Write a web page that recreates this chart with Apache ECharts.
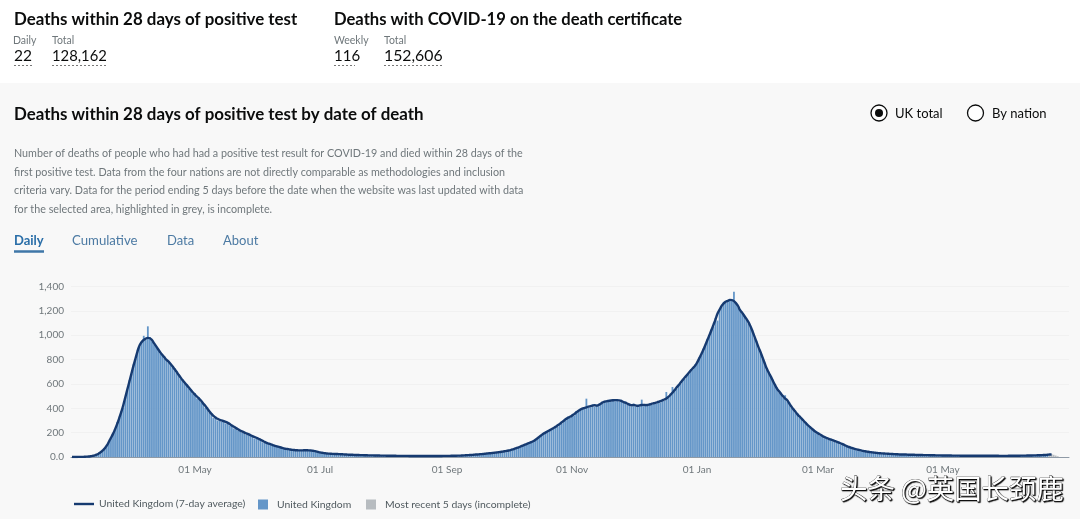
<!DOCTYPE html>
<html><head><meta charset="utf-8">
<style>html,body{margin:0;padding:0;background:#fff}#c{width:1080px;height:519px}</style>
<script src="https://cdn.jsdelivr.net/npm/echarts@6/dist/echarts.min.js"></script>
</head><body><div id="c"></div>
<script>
const startDate = '2020-03-02';
const dayCount = 487;
const tickDates = {'2020-05-01':'01 May','2020-07-01':'01 Jul','2020-09-01':'01 Sep','2020-11-01':'01 Nov','2021-01-01':'01 Jan','2021-03-01':'01 Mar','2021-05-01':'01 May'};
const yTicks = [0,200,400,600,800,1000,1200,1400];
const average = [
0,0,0,1,1,1,2,3,4,6, 9,13,19,28,40,54,72,95,125,158,
190,228,270,318,368,425,490,555,620,685, 750,810,870,918,945,962,972,978,975,960,
935,910,885,860,840,820,800,785,765,745, 722,700,675,652,630,610,590,570,550,530,
512,495,480,462,440,420,398,375,355,338, 324,314,306,300,295,288,280,270,258,248,
238,228,218,210,202,194,188,180,172,165, 158,150,142,132,124,116,110,104,98,92,
87,83,78,73,68,66,63,60,58,56, 55,54,54,55,56,55,54,52,50,46,
42,38,35,32,30,28,27,26,25,25, 24,23,22,21,20,19,18,18,17,17,
16,15,15,14,14,13,13,13,12,12, 12,11,11,11,10,10,10,10,10,9,
9,9,9,9,9,8,8,8,8,8, 8,8,8,8,8,8,8,8,8,8,
8,9,9,9,9,10,10,10,11,11, 12,13,14,15,16,17,18,20,21,23,
24,26,28,30,31,33,35,37,39,41, 44,47,50,53,57,62,68,74,80,87,
94,101,108,115,122,129,140,152,165,178, 190,200,210,219,228,238,248,260,272,285,
298,312,322,330,340,352,365,378,388,397, 402,408,413,418,422,425,422,428,438,448,
455,458,461,464,466,467,467,465,460,452, 446,438,430,425,428,424,420,424,427,428,
426,428,432,438,442,447,452,458,464,472, 480,494,510,528,548,570,589,612,632,652,
672,692,712,730,748,775,808,842,878,918, 958,1000,1041,1085,1130,1178,1210,1240,1262,1275,
1282,1290,1288,1280,1262,1240,1205,1185,1160,1135, 1110,1075,1035,990,945,900,860,815,770,726,
692,660,625,592,562,540,518,498,480,466, 440,415,392,372,350,333,315,298,280,262,
247,232,218,205,195,185,175,165,158,151, 145,139,133,127,120,113,106,98,90,83,
77,72,67,62,58,54,50,47,44,41, 39,37,35,33,31,30,29,28,27,26,
25,24,23,22,21,21,20,20,19,19, 18,18,17,17,16,16,15,15,15,14,
14,14,13,13,13,12,12,12,12,12, 11,11,11,11,10,10,10,10,10,10,
10,10,10,10,10,10,10,10,10,10, 10,10,10,9,9,9,9,10,10,10,
10,10,10,11,11,11,12,12,12,13, 13,14,14,15,16,17,18,20,21];
const daily = [
0,0,0,1,1,2,1,3,5,6, 8,12,20,25,40,52,70,98,122,158,
195,230,285,320,375,405,490,545,630,680, 760,805,880,905,950,995,960,1073,985,950,
925,905,890,850,845,810,805,775,770,735, 730,690,680,640,635,600,595,560,555,520,
525,480,490,450,445,405,410,365,355,320, 330,300,310,290,300,275,285,260,262,235,
242,218,222,200,206,182,192,172,176,152, 162,140,148,120,128,108,114,98,102,85,
90,76,82,66,72,60,66,54,60,50, 58,50,57,50,60,52,57,48,53,42,
44,34,37,28,32,24,29,22,27,21, 26,19,24,18,22,16,20,15,19,14,
18,12,17,11,16,10,15,10,14,9, 14,8,13,8,12,7,12,8,12,7,
11,7,11,6,11,6,10,6,10,6, 10,6,10,6,10,6,10,6,10,6,
10,7,11,7,11,8,12,8,13,9, 14,10,16,12,18,14,20,17,23,20,
26,23,30,27,33,30,37,34,41,38, 46,44,52,50,59,59,71,70,83,84,
97,98,112,112,126,124,145,148,170,174, 196,195,216,212,234,230,256,250,280,275,
306,302,332,320,350,340,376,370,398,395, 392,479,405,408,432,412,430,418,446,440,
462,450,470,455,475,458,476,455,470,444, 456,428,440,415,438,415,430,416,471,418,
436,420,442,430,452,438,462,448,474,462, 534,484,520,575,558,560,600,600,642,640,
682,680,722,718,760,765,818,830,890,905, 970,990,1052,1070,1142,1120,1205,1230,1272,1265,
1290,1295,1280,1356,1272,1230,1215,1175,1170,1125, 1096,1065,1045,980,955,890,849,805,780,715,
700,650,635,582,572,530,528,488,507,456, 450,405,400,362,358,323,322,288,288,252,
255,222,226,195,203,175,183,155,166,141, 152,130,140,118,127,104,113,90,96,75,
83,64,72,55,63,47,55,41,49,36, 44,33,38,29,34,27,32,25,30,23,
28,21,26,19,24,18,23,17,22,16, 21,15,20,14,19,13,18,12,18,11,
17,11,16,10,16,9,15,9,15,9, 14,8,14,8,13,7,13,7,13,7,
13,7,13,7,13,7,13,7,13,7, 13,7,13,6,12,6,12,7,13,7,
13,7,13,8,14,8,15,9,15,10, 16,11,17,12,19,14,21];
const incomplete = [20,24,18,12,6];

const categories = [];
{ const d0 = Date.parse(startDate + 'T00:00:00Z');
  for (let i = 0; i < dayCount; i++) categories.push(new Date(d0 + i * 864e5).toISOString().slice(0, 10)); }
const incompleteSeries = new Array(daily.length).fill(null).concat(incomplete);

const FONT = 'Lato, "Noto Sans", sans-serif';
const txt = (x, y, text, size, color, weight) => ({type:'text', x, y, silent:true, z:10,
  style:{text, fontSize:size, fill:color, fontWeight:weight||'normal', fontFamily:FONT, textVerticalAlign:'middle'}});
const hline = (x1, x2, y, color, w, dash) => ({type:'line', silent:true, z:10,
  shape:{x1, y1:y, x2, y2:y}, style:{stroke:color, lineWidth:w, lineDash:dash||null}});
const isTick = (i) => categories[i] in tickDates;

const chart = echarts.init(document.getElementById('c'), null, {renderer:'canvas'});
chart.setOption({
  animation:false,
  backgroundColor:'#fff',
  textStyle:{fontFamily:FONT},
  grid:{left:71, width:998, top:286.5, height:170.5, containLabel:false},
  xAxis:{type:'category', data:categories, boundaryGap:true,
    axisLine:{lineStyle:{color:'#8f9aa6', width:1}},
    axisTick:{alignWithLabel:true, interval:(i)=>isTick(i), length:4, lineStyle:{color:'#9aa3ab'}},
    axisLabel:{interval:(i)=>isTick(i), formatter:(v)=>tickDates[v]||'', fontSize:10, color:'#6f777b', margin:8, hideOverlap:false},
    splitLine:{show:false}},
  yAxis:{type:'value', min:0, max:1400, interval:200,
    axisLine:{show:false}, axisTick:{show:false},
    axisLabel:{formatter:(v)=>v===0?'0.0':v.toLocaleString('en-GB'), fontSize:10, color:'#6f777b', margin:7},
    splitLine:{lineStyle:{color:'#f1f1f1', width:1}}},
  legend:[
    {left:69, top:494, selectedMode:false, itemWidth:20, itemHeight:8, textStyle:{fontSize:10.4,color:'#505a5f',fontFamily:FONT}, itemGap:5,
     data:[{name:'United Kingdom (7-day average)', icon:'path://M0 3H20V5.4H0Z'}]},
    {left:253, top:494.5, selectedMode:false, itemWidth:10, itemHeight:10, textStyle:{fontSize:10.4,color:'#505a5f',fontFamily:FONT,padding:[0,0,0,4]},
     data:[{name:'United Kingdom', icon:'rect'}]},
    {left:361, top:494.5, selectedMode:false, itemWidth:10, itemHeight:10, textStyle:{fontSize:10.4,color:'#505a5f',fontFamily:FONT,padding:[0,0,0,4]},
     data:[{name:'Most recent 5 days (incomplete)', icon:'rect'}]}
  ],
  series:[
    {name:'United Kingdom', type:'bar', data:daily, barWidth:1.8, barGap:'-100%', itemStyle:{color:'#6496c8'}, z:2, silent:true},
    {name:'Most recent 5 days (incomplete)', type:'bar', data:incompleteSeries, barWidth:1.8, itemStyle:{color:'#b7bcc0'}, z:2, silent:true},
    {name:'United Kingdom (7-day average)', type:'line', data:average, showSymbol:false, symbol:'none', smooth:true,
     lineStyle:{color:'#163a70', width:2.4}, itemStyle:{color:'#163a70'}, z:5, silent:true}
  ],
  graphic:[
    {type:'rect', silent:true, z:-10, shape:{x:0,y:83,width:1080,height:436}, style:{fill:'#f8f8f8'}},
    txt(14,19.5,'Deaths within 28 days of positive test',16.9,'#0b0c0c','bold'),
    txt(334,19.5,'Deaths with COVID-19 on the death certificate',16.6,'#0b0c0c','bold'),
    txt(13,40.5,'Daily',10.5,'#6f777b'), txt(52,40.5,'Total',10.5,'#6f777b'),
    txt(334,40.5,'Weekly',10.5,'#6f777b'), txt(384,40.5,'Total',10.5,'#6f777b'),
    txt(14,56,'22',15.5,'#0b0c0c'), txt(52,56,'128,162',14.8,'#0b0c0c'),
    txt(334,56,'116',15,'#0b0c0c'), txt(384,56,'152,606',15.8,'#0b0c0c'),
    hline(14,32,65.5,'#777',1,[2,2]), hline(52,106,65.5,'#777',1,[2,2]),
    hline(334,355,65.5,'#777',1,[2,2]), hline(384,442,65.5,'#777',1,[2,2]),
    txt(14,115,'Deaths within 28 days of positive test by date of death',16.9,'#0b0c0c','bold'),
    txt(14,154,'Number of deaths of people who had had a positive test result for COVID-19 and died within 28 days of the',10.75,'#6f777b'),
    txt(14,172.5,'first positive test. Data from the four nations are not directly comparable as methodologies and inclusion',10.75,'#6f777b'),
    txt(14,191,'criteria vary. Data for the period ending 5 days before the date when the website was last updated with data',10.75,'#6f777b'),
    txt(14,209.5,'for the selected area, highlighted in grey, is incomplete.',10.75,'#6f777b'),
    txt(14,241,'Daily',13,'#2a6ea8','bold'), txt(72,241,'Cumulative',13.2,'#4c7aa3'),
    txt(167,241,'Data',13,'#4c7aa3'), txt(223,241,'About',13,'#4c7aa3'),
    hline(14,44,251.5,'#3f77a8',2.5),
    {type:'circle', silent:true, z:10, shape:{cx:879,cy:113,r:8}, style:{fill:'#fff',stroke:'#0b0c0c',lineWidth:1.3}},
    {type:'circle', silent:true, z:11, shape:{cx:879,cy:113,r:4}, style:{fill:'#0b0c0c'}},
    txt(895,113.5,'UK total',13,'#0b0c0c'),
    {type:'circle', silent:true, z:10, shape:{cx:975.5,cy:113,r:8}, style:{fill:'#fff',stroke:'#0b0c0c',lineWidth:1.3}},
    txt(992,113.5,'By nation',13,'#0b0c0c'),
    {type:'text', x:840, y:489, silent:true, z:20, style:{text:'头条 @英国长颈鹿', fontSize:27.4, fontFamily:'"Noto Sans CJK SC"', fill:'#fff', textVerticalAlign:'middle', textShadowColor:'#000', textShadowBlur:1, textShadowOffsetX:1, textShadowOffsetY:1, stroke:'#222', lineWidth:0.6}}
  ]
});
</script></body></html>
